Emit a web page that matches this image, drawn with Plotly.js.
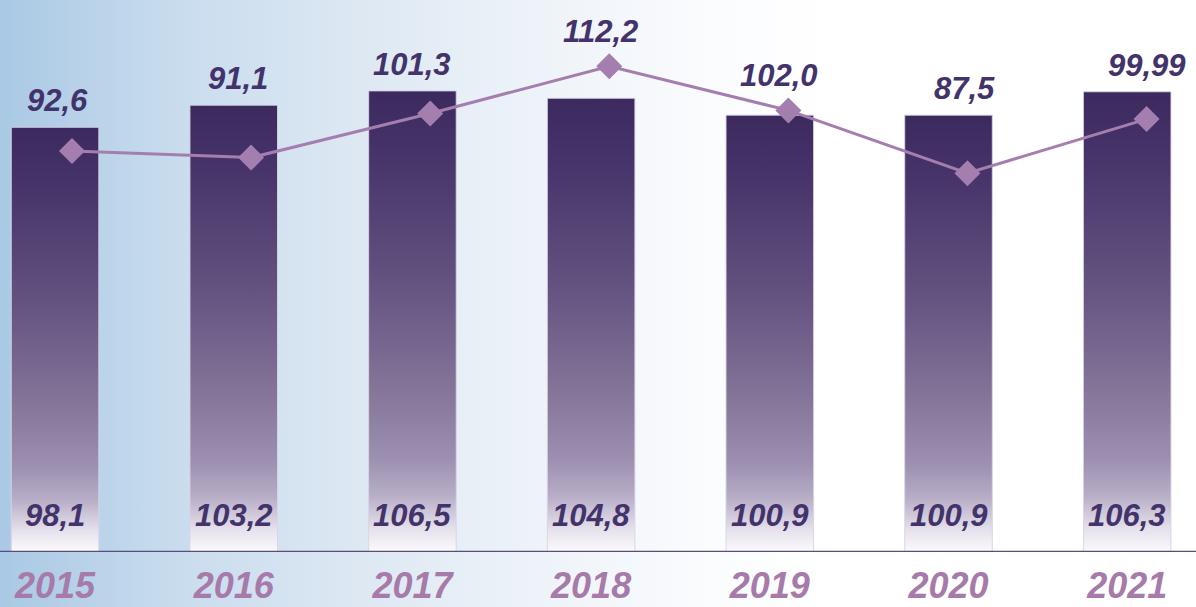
<!DOCTYPE html>
<html>
<head>
<meta charset="utf-8">
<script src="https://cdn.plot.ly/plotly-3.0.1.min.js"></script>
<style>
  html, body { margin: 0; padding: 0; }
  body { width: 1196px; height: 607px; overflow: hidden;
    background: linear-gradient(to right, #a9c9e4 0%, #c9dcee 15%, #dde8f3 30%, #eef3f9 45%, #fbfcfe 60%, #ffffff 70%); }
  #chart { width: 1196px; height: 607px; }
</style>
</head>
<body>
<div id="chart"></div>
<script>
const years = ['2015', '2016', '2017', '2018', '2019', '2020', '2021'];
const barValues = [98.1, 103.2, 106.5, 104.8, 100.9, 100.9, 106.3];
const lineValues = [92.6, 91.1, 101.3, 112.2, 102.0, 87.5, 99.99];
const barLabels = ['98,1', '103,2', '106,5', '104,8', '100,9', '100,9', '106,3'];
const lineLabels = ['92,6', '91,1', '101,3', '112,2', '102,0', '87,5', '99,99'];

const labelFont = { family: 'Liberation Sans, Arial, sans-serif', size: 31, color: '#43336b', weight: 'bold', style: 'italic' };
const topShiftX = [2, 4, 0, 9, 9, 16, 20];

const bars = {
  type: 'bar', x: years, y: barValues, xaxis: 'x', yaxis: 'y',
  width: 0.49,
  marker: { color: '#5a4a80', line: { color: 'rgba(215,212,228,0.9)', width: 1 } },
  hoverinfo: 'skip'
};
const line = {
  type: 'scatter', mode: 'lines+markers', x: years, y: lineValues, xaxis: 'x2', yaxis: 'y',
  line: { color: '#a47eae', width: 3 },
  marker: { symbol: 'diamond', size: 20, color: '#a47eae' },
  hoverinfo: 'skip'
};

// annotation x uses the category index on the category axis
const annotations = [];
years.forEach((yr, i) => {
  const lineTop = lineValues[i] > barValues[i];
  annotations.push({
    x: i, xref: 'x', y: Math.max(barValues[i], lineValues[i]), yref: 'y',
    text: lineLabels[i], showarrow: false, yanchor: 'bottom',
    xshift: topShiftX[i], yshift: lineTop ? 15 : 7, font: labelFont
  });
  annotations.push({
    x: i, xref: 'x', y: 0, yref: 'y',
    text: barLabels[i], showarrow: false, yanchor: 'bottom',
    yshift: 17, font: labelFont
  });
});

const layout = {
  width: 1196, height: 607,
  margin: { l: 0, r: 0, t: 0, b: 55 },
  paper_bgcolor: 'rgba(0,0,0,0)', plot_bgcolor: 'rgba(0,0,0,0)',
  showlegend: false,
  hovermode: false,
  xaxis: {
    type: 'category', range: [-0.308, 6.385], showgrid: false, zeroline: false,
    showline: false, ticks: '', fixedrange: true, ticklabelstandoff: 9,
    tickfont: { family: 'Liberation Sans, Arial, sans-serif', size: 36, color: '#a67aa9', weight: 'bold', style: 'italic' }
  },
  xaxis2: {
    type: 'category', overlaying: 'x', range: [-0.402, 6.276], visible: false, fixedrange: true
  },
  yaxis: { range: [0, 127.5], visible: false, showgrid: false, zeroline: false, fixedrange: true },
  shapes: [{
    type: 'line', xref: 'paper', x0: 0, x1: 1, yref: 'y', y0: 0, y1: 0,
    line: { color: '#5b4c7e', width: 2.5 }, layer: 'above'
  }],
  annotations: annotations
};

Plotly.newPlot('chart', [bars, line], layout, { displayModeBar: false }).then(gd => {
  const svg = gd.querySelector('svg.main-svg');
  const ns = 'http://www.w3.org/2000/svg';
  let defs = svg.querySelector('defs');
  if (!defs) { defs = document.createElementNS(ns, 'defs'); svg.insertBefore(defs, svg.firstChild); }
  const grad = document.createElementNS(ns, 'linearGradient');
  grad.setAttribute('id', 'barGrad');
  grad.setAttribute('x1', '0'); grad.setAttribute('y1', '0');
  grad.setAttribute('x2', '0'); grad.setAttribute('y2', '1');
  const stops = [[0, '#3c2a5f'], [0.12, '#443268'], [0.4, '#62507f'], [0.65, '#847599'], [0.8, '#9d90b1'], [0.88, '#b9afc8'], [0.95, '#e6e1ec'], [1, '#fbfafc']];
  stops.forEach(([o, c]) => {
    const s = document.createElementNS(ns, 'stop');
    s.setAttribute('offset', o); s.setAttribute('stop-color', c);
    grad.appendChild(s);
  });
  defs.appendChild(grad);
  gd.querySelectorAll('.barlayer .bars path').forEach(p => { p.style.fill = 'url(#barGrad)'; });
});
</script>
</body>
</html>
